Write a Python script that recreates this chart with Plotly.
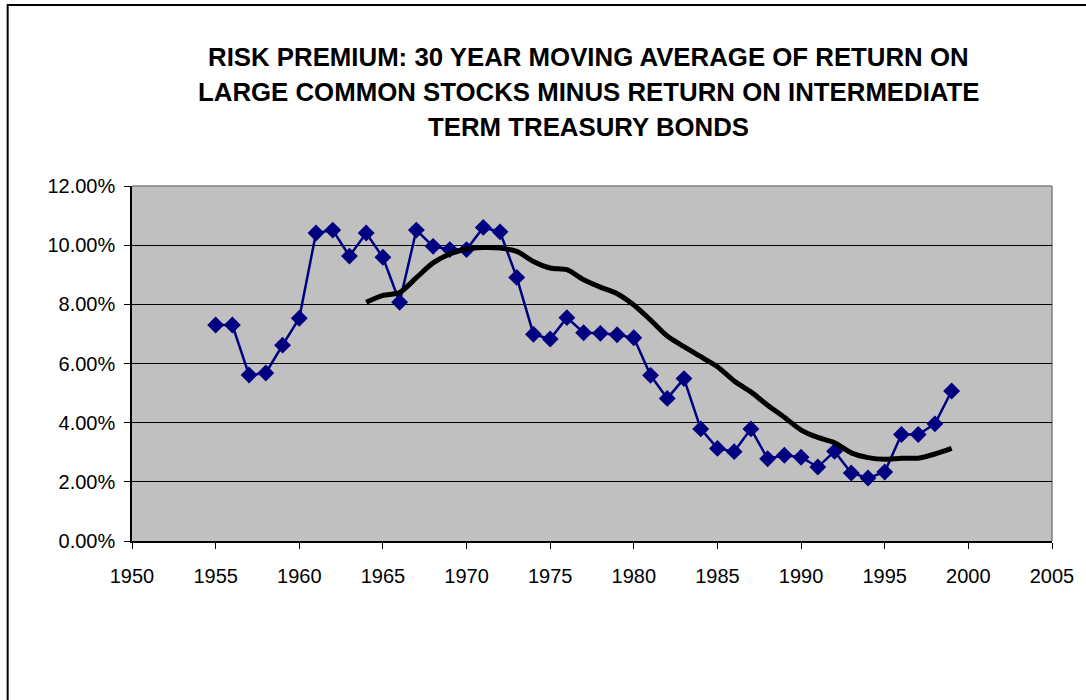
import plotly.graph_objects as go

years = list(range(1955, 2000))
risk_premium = [7.30, 7.30, 5.61, 5.68, 6.62, 7.53, 10.41, 10.51, 9.63, 10.41,
                9.59, 8.07, 10.51, 9.96, 9.85, 9.85, 10.60, 10.45, 8.91, 6.99,
                6.83, 7.55, 7.04, 7.02, 6.97, 6.87, 5.60, 4.82, 5.49, 3.79,
                3.13, 3.02, 3.79, 2.78, 2.90, 2.83, 2.50, 3.03, 2.30, 2.13,
                2.33, 3.60, 3.60, 3.96, 5.07]

ma_years = list(range(1964, 2000))
moving_avg = [8.07, 8.30, 8.40, 8.90, 9.40, 9.70, 9.87, 9.92, 9.90, 9.79,
              9.45, 9.23, 9.17, 8.83, 8.58, 8.36, 7.98, 7.47, 6.93, 6.57,
              6.23, 5.89, 5.41, 5.04, 4.59, 4.18, 3.75, 3.50, 3.32, 2.98,
              2.82, 2.76, 2.80, 2.80, 2.94, 3.13]

title_lines = ["RISK PREMIUM: 30 YEAR MOVING AVERAGE OF RETURN ON",
               "LARGE COMMON STOCKS MINUS RETURN ON INTERMEDIATE",
               "TERM TREASURY BONDS"]

W, H = 1086, 700
L, R, T, B = 132, 1057, 186, 541
pw, ph = R - L, B - T

def px_x(x):
    return (x - L) / pw

def px_y(y):
    return (B - y) / ph

fig = go.Figure()
fig.add_trace(go.Scatter(
    x=years, y=risk_premium, mode="lines+markers",
    line=dict(color="#000080", width=2.5),
    marker=dict(symbol="diamond", size=13, color="#000080"),
    showlegend=False, hoverinfo="skip"))
fig.add_trace(go.Scatter(
    x=ma_years, y=moving_avg, mode="lines",
    line=dict(color="black", width=5, shape="spline", smoothing=0.8),
    showlegend=False, hoverinfo="skip"))

font_family = "Liberation Sans, Arial, sans-serif"
for i, (txt, ypx) in enumerate(zip(title_lines, [57, 92, 127])):
    fig.add_annotation(text="<b>" + txt + "</b>", xref="paper", yref="paper",
                       x=px_x(591), y=px_y(ypx), xanchor="center", yanchor="middle",
                       showarrow=False, font=dict(family=font_family, size=25.8, color="black"))

shapes = [
    dict(type="rect", xref="paper", yref="paper", x0=px_x(7), x1=px_x(1100),
         y0=px_y(720), y1=px_y(5), line=dict(color="black", width=2), layer="below"),
    dict(type="line", xref="paper", yref="paper", x0=0, x1=1, y0=1, y1=1,
         line=dict(color="#808080", width=1.5), layer="below"),
    dict(type="line", xref="paper", yref="paper", x0=1, x1=1, y0=0, y1=1,
         line=dict(color="#808080", width=1.5), layer="below"),
]

fig.update_layout(
    width=W, height=H,
    margin=dict(l=L, r=W - R, t=T, b=H - B, pad=0),
    paper_bgcolor="white", plot_bgcolor="#C0C0C0",
    font=dict(family=font_family, size=20, color="black"),
    shapes=shapes,
)
fig.update_xaxes(range=[1950, 2005], dtick=5, tick0=1950, showgrid=False, zeroline=False,
                 showline=True, linecolor="black", linewidth=1.5,
                 ticks="outside", ticklen=6, tickcolor="black", tickwidth=1,
                 ticklabelstandoff=10)
fig.update_yaxes(range=[0, 12], dtick=2, tick0=0, tickformat=".2f", ticksuffix="%",
                 showgrid=True, gridcolor="black", gridwidth=1, zeroline=False,
                 showline=True, linecolor="black", linewidth=1.5,
                 ticks="outside", ticklen=6, tickcolor="black", tickwidth=1,
                 ticklabelstandoff=5)

fig.write_html("out.html")
